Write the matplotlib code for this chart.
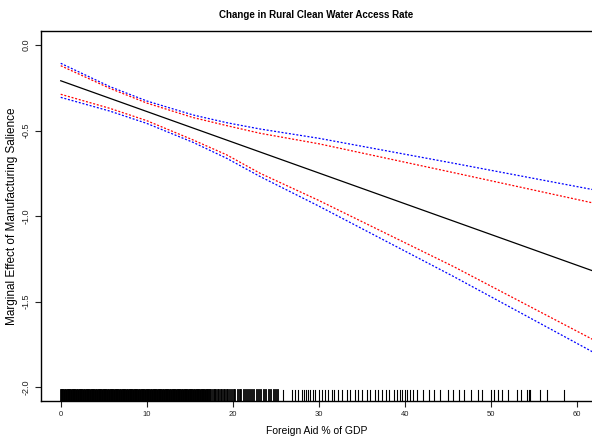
import matplotlib
matplotlib.use("Agg")
import matplotlib.pyplot as plt

# values
title = "Change in Rural Clean Water Access Rate"
x_label = "Foreign Aid % of GDP"
y_label = "Marginal Effect of Manufacturing Salience"

x_ticks = [0, 10, 20, 30, 40, 50, 60]
y_ticks = [0.0, -0.5, -1.0, -1.5, -2.0]
y_tick_labels = ["0.0", "-0.5", "-1.0", "-1.5", "-2.0"]

# estimated marginal effect (straight line)
effect_x = [0, 62]
effect_y = [-0.209, -1.322]

# confidence bands
band_x = [0, 5.7, 10, 15.4, 19.3, 23.2, 30, 45.7, 62]
blue_upper = [-0.107, -0.243, -0.327, -0.409, -0.454, -0.491, -0.545, -0.691, -0.846]
red_upper = [-0.121, -0.253, -0.339, -0.424, -0.471, -0.516, -0.577, -0.746, -0.924]
red_lower = [-0.288, -0.370, -0.442, -0.555, -0.642, -0.750, -0.908, -1.295, -1.724]
blue_lower = [-0.306, -0.386, -0.458, -0.569, -0.662, -0.769, -0.941, -1.353, -1.797]

# rug of observed foreign aid values
rug_dense = [
    0.0, 0.2, 0.4, 0.6, 0.8, 1.0, 1.2, 1.4, 1.6, 1.8, 2.0, 2.2, 2.4, 2.6, 2.8,
    3.0, 3.2, 3.4, 3.6, 3.8, 4.0, 4.2, 4.4, 4.6, 4.8, 5.0, 5.2, 5.4, 5.6, 5.8,
    6.0, 6.2, 6.4, 6.6, 6.8, 7.0, 7.2, 7.4, 7.6, 7.8, 8.0, 8.2, 8.4, 8.6, 8.8,
    9.0, 9.2, 9.4, 9.6, 9.8, 10.0, 10.2, 10.4, 10.6, 10.8, 11.0, 11.2, 11.4,
    11.6, 11.8, 12.0, 12.2, 12.4, 12.6, 12.8, 13.0, 13.2, 13.4, 13.6, 13.8,
    14.0, 14.2, 14.4, 14.6, 14.8, 15.0, 15.2, 15.4, 15.6, 15.8, 16.0, 16.2,
    16.4, 16.6, 16.8, 17.0,
]
rug_mid = [
    17.1, 17.3, 17.4, 17.6, 17.8, 17.9, 18.1, 18.3, 18.4, 18.6, 18.8, 19.0,
    19.1, 19.3, 19.5, 19.7, 19.9, 20.1, 20.3, 20.6, 20.8, 21.0, 21.3, 21.5,
    21.8, 22.0, 22.2, 22.5, 22.8, 23.0, 23.3, 23.6, 23.9, 24.2, 24.4, 24.8,
    25.0, 25.3,
]
rug_sparse = [
    25.8, 26.9, 27.3, 27.6, 28.0, 28.3, 28.5, 28.8, 29.0, 29.3, 29.6, 30.0,
    30.4, 30.7, 31.1, 31.5, 31.8, 32.3, 32.7, 33.3, 33.6, 34.2, 34.6, 35.0,
    35.6, 36.0, 36.5, 36.9, 37.4, 37.8, 38.2, 38.7, 39.1, 39.4, 39.7, 40.0,
    40.3, 40.6, 41.0, 41.4, 42.1, 42.8, 43.4, 44.1, 45.0, 45.6, 46.3, 46.9,
    47.7, 48.5, 49.0, 50.0, 50.4, 50.9, 51.3, 52.0, 53.1, 53.5, 54.2, 54.4,
    54.6, 55.7, 56.6, 58.5,
]

plt.rcParams["font.family"] = ["Liberation Sans", "DejaVu Sans"]

fig = plt.figure(figsize=(5.92, 4.37), dpi=100)
ax = fig.add_axes([40.7 / 592, 36 / 437, 1 - 40.7 / 592, 369.7 / 437])

dots = (0, (1.6, 1.4))
ax.plot(effect_x, effect_y, color="black", linewidth=0.9)
ax.plot(band_x, blue_upper, color="#0000ff", linewidth=0.9, linestyle=dots)
ax.plot(band_x, blue_lower, color="#0000ff", linewidth=0.9, linestyle=dots)
ax.plot(band_x, red_upper, color="#ff0000", linewidth=0.9, linestyle=dots)
ax.plot(band_x, red_lower, color="#ff0000", linewidth=0.9, linestyle=dots)

# rug along the bottom of the plot; the crowded part merges into a solid block
for group, lw in [(rug_dense, 2.0), (rug_mid, 1.3), (rug_sparse, 0.8)]:
    for v in group:
        ax.axvline(v, ymin=0, ymax=0.031, color="black", linewidth=lw)

ax.set_xlim(-2.33, 61.78)
ax.set_ylim(-2.08, 0.08)

ax.set_xticks(x_ticks)
ax.set_xticklabels([str(t) for t in x_ticks], fontsize=5.5)
ax.set_yticks(y_ticks)
ax.set_yticklabels(y_tick_labels, fontsize=6.5, rotation=90, va="center")
ax.tick_params(direction="out", length=4, width=0.8, pad=3, colors="#222222")

for side in ["left", "bottom", "top"]:
    ax.spines[side].set_linewidth(1.0)
ax.spines["right"].set_visible(False)

ax.set_xlabel(x_label, fontsize=7.5, labelpad=6)
ax.set_ylabel(y_label, fontsize=8.5, labelpad=3)
fig.text(316 / 592, 1 - 15 / 437, title, fontsize=7, fontweight="bold",
         ha="center", va="center")

fig.savefig("out.png", dpi=100)
